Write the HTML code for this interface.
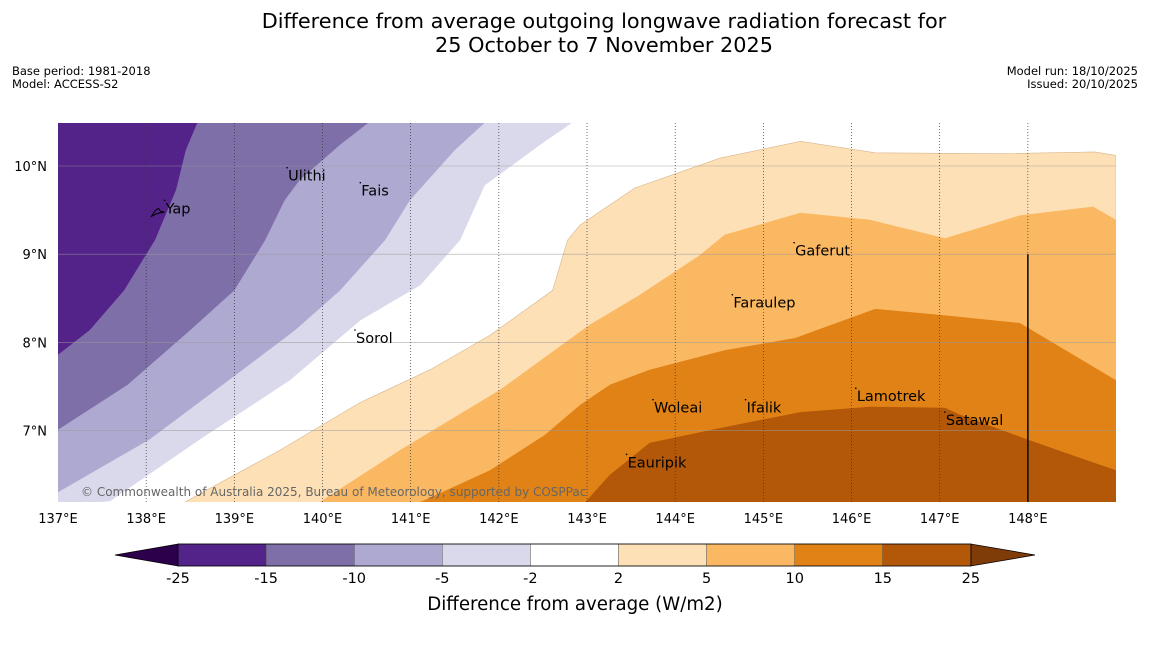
<!DOCTYPE html>
<html><head><meta charset="utf-8"><style>
body{margin:0;background:#fff;font-family:"Liberation Sans","DejaVu Sans",sans-serif;}
svg text{font-family:"DejaVu Sans","Liberation Sans",sans-serif;}
</style></head><body>
<svg id="c" width="1150" height="644" viewBox="0 0 1150 644">
<text x="604" y="28" font-size="20.8" text-anchor="middle">Difference from average outgoing longwave radiation forecast for</text>
<text x="604" y="52" font-size="20.8" text-anchor="middle">25 October to 7 November 2025</text>
<text x="12" y="75" font-size="11.5">Base period: 1981-2018</text>
<text x="12" y="88" font-size="11.5">Model: ACCESS-S2</text>
<text x="1138" y="75" font-size="11.5" text-anchor="end">Model run: 18/10/2025</text>
<text x="1138" y="88" font-size="11.5" text-anchor="end">Issued: 20/10/2025</text>
<defs><clipPath id="mc"><rect x="58" y="123" width="1058" height="379"/></clipPath></defs>
<g id="map" clip-path="url(#mc)"></g>
<g id="axes"></g>
<g id="cbar"></g>
<text x="575" y="610" font-size="18.2" text-anchor="middle">Difference from average (W/m2)</text>
</svg>
<script>
const lonTicks=[137,138,139,140,141,142,143,144,145,146,147,148];
const latTicks=[7,8,9,10];
const levels=["-25","-15","-10","-5","-2","2","5","10","15","25"];
const bandColors=["#54238a","#7f6fa9","#aea9d1","#d9d9eb","#ffffff","#fee0b6","#fbb862","#e08215","#b25808"];
const c25=[[138.58,10.49],[138.45,10.18],[138.34,9.73],[138.10,9.16],[137.75,8.59],[137.36,8.14],[137.0,7.86]];
const c15=[[140.52,10.49],[140.20,10.24],[139.74,9.84],[139.57,9.61],[139.35,9.16],[139.0,8.59],[138.50,8.14],[137.79,7.52],[137,7.01]];
const c10=[[141.84,10.49],[141.50,10.18],[140.99,9.61],[140.71,9.16],[140.20,8.59],[139.69,8.14],[138.95,7.58],[138.04,6.90],[137,6.30]];
const c5=[[142.83,10.49],[142.47,10.24],[141.84,9.78],[141.56,9.16],[141.11,8.65],[140.43,8.25],[139.63,7.57],[138.61,6.90],[137.59,6.20]];
const p2=[[138.44,6.19],[139.52,6.78],[140.43,7.32],[141.22,7.69],[141.90,8.08],[142.61,8.59],[142.78,9.16],[142.92,9.33],[143.54,9.75],[144.51,10.09],[145.42,10.28],[146.27,10.15],[147.68,10.14],[148.76,10.16],[149,10.12]];
const p5=[[139.97,6.19],[140.88,6.78],[142.01,7.46],[143.03,8.20],[143.60,8.54],[144.28,8.99],[144.56,9.22],[145.42,9.47],[146.21,9.39],[147.06,9.18],[147.91,9.44],[148.74,9.54],[149,9.39]];
const p10=[[141.11,6.19],[141.90,6.55],[142.52,6.95],[142.92,7.29],[143.26,7.52],[143.71,7.69],[144.56,7.91],[145.36,8.05],[146.27,8.38],[147.12,8.30],[147.91,8.22],[149,7.57]];
const p15=[[142.98,6.19],[143.26,6.50],[143.71,6.86],[144.51,7.03],[145.42,7.21],[146.21,7.27],[147.06,7.26],[147.23,7.18],[148.02,6.89],[148.59,6.69],[149,6.55]];
const placeNames=["Yap","Ulithi","Fais","Gaferut","Faraulep","Sorol","Woleai","Ifalik","Lamotrek","Satawal","Eauripik"];
const labelLon=[138.22,139.61,140.44,145.36,144.66,140.38,143.76,144.81,146.06,147.07,143.46];
const labelLat=[9.52,9.89,9.72,9.04,8.45,8.05,7.26,7.26,7.39,7.12,6.64];

const X=lon=>58+(lon-137)*88.17, Y=lat=>166-(lat-10)*88.2;
const NS="http://www.w3.org/2000/svg";
function mk(tag,attrs,parent){const e=document.createElementNS(NS,tag);for(const k in attrs)e.setAttribute(k,attrs[k]);parent.appendChild(e);return e;}
const map=document.getElementById('map');
let bg=mk('rect',{x:58,y:123,width:1058,height:379,fill:'#fff'},map);


const pts=a=>a.map(p=>X(p[0]).toFixed(1)+','+Y(p[1]).toFixed(1));
[[p2,5],[p5,6],[p10,7],[p15,8]].forEach(([a,ci])=>{
 const s=pts(a).concat([X(149)+','+Y(6.19), X(a[0][0])+','+Y(6.0)]);
 const el=mk('polygon',{points:s.join(' '),fill:bandColors[ci],stroke:ci==5?'#d8b58a':'none','stroke-width':0.6},map);
 
 
});
[[c5,3],[c10,2],[c15,1],[c25,0]].forEach(([a,ci])=>{
 const s=pts(a).concat([X(137)-5+','+(Y(a[a.length-1][1])+5), (X(137)-5)+','+(Y(10.49)-5), X(a[0][0])+','+(Y(10.49)-5)]);
 const el=mk('polygon',{points:s.join(' '),fill:bandColors[ci]},map);
 
 
});
const axes=document.getElementById('axes');
latTicks.forEach(l=>{
 const g=mk('line',{x1:58,x2:1116,y1:Y(l),y2:Y(l),stroke:'#999','stroke-width':0.6,'stroke-opacity':0.8},axes);
 
 
 const t=mk('text',{x:47,y:Y(l)+5,'font-size':13,'text-anchor':'end'},axes);t.textContent=l+'°N';
 
 
});
lonTicks.forEach(l=>{
 if(l>137){const g=mk('line',{x1:X(l),x2:X(l),y1:123,y2:502,stroke:'#333','stroke-width':0.7,'stroke-dasharray':'1,2'},axes);
 
 }
 const t=mk('text',{x:X(l),y:523,'font-size':13,'text-anchor':'middle'},axes);t.textContent=l+'°E';
 
 
});
let bl=mk('line',{x1:X(148),x2:X(148),y1:Y(9),y2:502,stroke:'#111','stroke-width':1.6},axes);


let yapIsland=mk('path',{d:`M${X(138.06)},${Y(9.43)} l4,-6 l3,-2 l2,3 l4,1 l-6,1 l-3,1 z`,fill:'none',stroke:'#000','stroke-width':1},axes);


placeNames.forEach((n,i)=>{
 const d=mk('circle',{cx:X(labelLon[i])-1,cy:Y(labelLat[i])-8,r:0.8,fill:'#000'},axes);
 
 
 const t=mk('text',{x:X(labelLon[i]),y:Y(labelLat[i])+5,'font-size':14.5},axes);t.textContent=n;
 
 
});
let cp=mk('text',{x:81,y:496,'font-size':12,fill:'#666'},axes);cp.textContent='© Commonwealth of Australia 2025, Bureau of Meteorology, supported by COSPPac';


const cb=document.getElementById('cbar');
const x0=178,w=88.1,y0=544,h=22;
let lt=mk('polygon',{points:`115,555 ${x0},${y0} ${x0},${y0+h}`,fill:'#2d004b',stroke:'#000','stroke-width':0.7},cb);


let rt=mk('polygon',{points:`1035,555 ${x0+9*w},${y0} ${x0+9*w},${y0+h}`,fill:'#7f3b08',stroke:'#000','stroke-width':0.7},cb);


bandColors.forEach((col,i)=>{
 const r=mk('rect',{x:x0+i*w,y:y0,width:w,height:h,fill:col,stroke:'#444','stroke-width':0.4},cb);
 
 
});
mk('rect',{x:x0,y:y0,width:9*w,height:h,fill:'none',stroke:'#000','stroke-width':0.8},cb);
levels.forEach((l,i)=>{
 const t=mk('text',{x:x0+i*w,y:583,'font-size':14.5,'text-anchor':'middle'},cb);t.textContent=l;
 
 
});
</script>
</body></html>
